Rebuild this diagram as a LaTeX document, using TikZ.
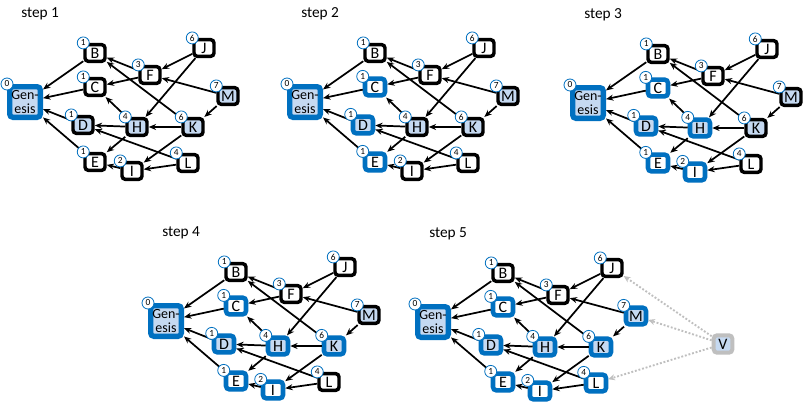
\documentclass[tikz,border=0pt]{standalone}
\usepackage{fontspec}
\setmainfont{Carlito}
\usetikzlibrary{arrows.meta}
\definecolor{dagblue}{RGB}{0,112,192}
\definecolor{daglight}{RGB}{197,217,241}
\definecolor{daggray}{RGB}{191,191,191}
\tikzset{
  dagbox/.style={draw, rounded corners=2.5pt, minimum width=15pt, minimum height=12.5pt,
    inner sep=0pt, font=\fontsize{12}{12}\selectfont},
  openbox/.style={dagbox, line width=2.6pt, fill=white},
  openfill/.style={dagbox, line width=2.6pt, fill=daglight},
  blueopen/.style={dagbox, line width=3.4pt, draw=dagblue, fill=white},
  bluefill/.style={dagbox, line width=3.4pt, draw=dagblue, fill=daglight},
  genbox/.style={bluefill, line width=4pt, minimum width=23pt, minimum height=23pt,
    align=center, font=\fontsize{10.5}{10.5}\selectfont},
  vbox/.style={dagbox, line width=3pt, draw=daggray, fill=daglight, minimum width=14pt, minimum height=13pt},
  cnt/.style={circle, draw=dagblue, fill=white, line width=0.6pt, inner sep=0pt,
    minimum size=9pt, font=\fontsize{7}{7}\selectfont},
  steptext/.style={anchor=west, inner sep=0pt, font=\fontsize{11.5}{11.5}\selectfont},
  link/.style={line width=1.3pt, -{Stealth[length=5.5pt,width=4.5pt]}},
  vlink/.style={draw=daggray, line width=1.4pt, dash pattern=on 1.4pt off 1.4pt,
    -{Stealth[length=5pt,width=4.5pt]}},
  % default look of every block
  nG/.style=genbox, nB/.style=openbox, nC/.style=openbox, nD/.style=openfill,
  nE/.style=openbox, nF/.style=openbox, nH/.style=openfill, nI/.style=openbox,
  nJ/.style=openbox, nK/.style=openfill, nL/.style=openbox, nM/.style=openfill
}

% one panel of the dag: #1 step, #2/#3 shift, #4 block looks
\newcommand{\dagpanel}[4]{%
  \begin{scope}[shift={(#2,#3)}, #4]
    \node[steptext] (s#1title) at (21,14) {step #1};
    \node[nG] (s#1G) at (25,102) {Gen-\\esis};
    \node[nB] (s#1B) at (95,53) {B};
    \node[nC] (s#1C) at (95,87) {C};
    \node[nD] (s#1D) at (83,125) {D};
    \node[nE] (s#1E) at (95,162) {E};
    \node[nF] (s#1F) at (150,75) {F};
    \node[nH] (s#1H) at (137,127) {H};
    \node[nI] (s#1I) at (132,171) {I};
    \node[nJ] (s#1J) at (204,48) {J};
    \node[nM] (s#1M) at (228,96) {M};
    \node[nK] (s#1K) at (193,127) {K};
    \node[nL] (s#1L) at (188,163) {L};
    \foreach \a/\b in {B/G, C/G, D/G, E/G, F/B, F/C, J/F, J/H, M/F, M/K,
                       H/C, H/D, H/E, K/H, K/B, K/I, L/D, L/I, I/E}
      \draw[link] (s#1\a) -- (s#1\b);
    \foreach \n/\c in {G/0, B/1, C/1, D/1, E/1, F/3, H/4, I/2, J/6, M/7, K/6, L/4}
      \node[cnt] (s#1\n-cnt) at (s#1\n.north west) {\c};
  \end{scope}}

\begin{document}
\begin{tikzpicture}[x=0.75pt, y=-0.75pt]
  \fill[white] (0,0) rectangle (808,418);
  \useasboundingbox (0,0) rectangle (808,418);

  \dagpanel{1}{0}{0}{}
  \dagpanel{2}{280}{0}{nC/.style=blueopen, nD/.style=bluefill, nE/.style=blueopen}
  \dagpanel{3}{563}{1}{nC/.style=blueopen, nD/.style=bluefill, nE/.style=blueopen,
    nH/.style=bluefill, nI/.style=blueopen}
  \dagpanel{4}{141}{219}{nC/.style=blueopen, nD/.style=bluefill, nE/.style=blueopen,
    nH/.style=bluefill, nI/.style=blueopen, nK/.style=bluefill}
  \dagpanel{5}{408}{220}{nC/.style=blueopen, nD/.style=bluefill, nE/.style=blueopen,
    nH/.style=bluefill, nI/.style=blueopen, nK/.style=bluefill,
    nM/.style=bluefill, nL/.style=blueopen}

  % the new block
  \node[vbox] (V) at (723,344) {V};
  \foreach \t in {J, M, L}
    \draw[vlink] (V) -- (s5\t);
\end{tikzpicture}
\end{document}
